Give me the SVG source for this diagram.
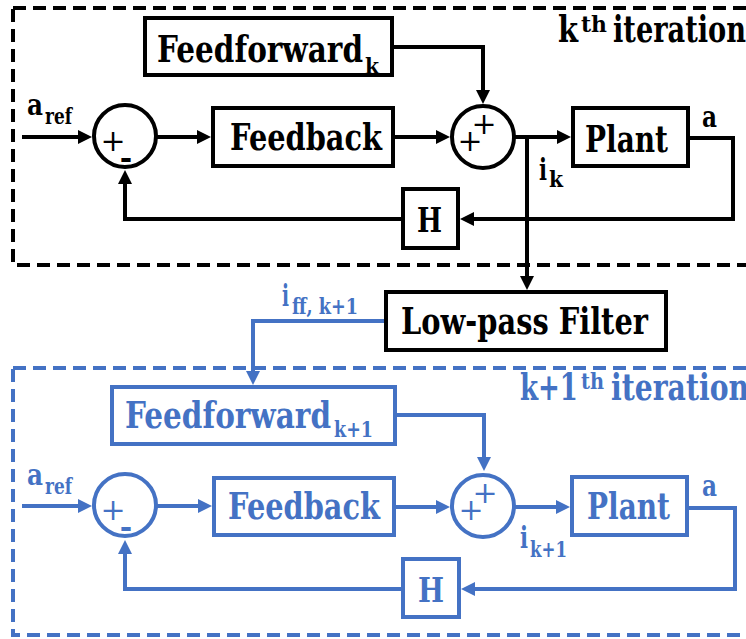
<svg xmlns="http://www.w3.org/2000/svg" width="746" height="639" viewBox="0 0 746 639">
  <style>
    .k { stroke: #000000; }
    .b { stroke: #4472C4; }
    .box { fill: #ffffff; stroke-width: 4; }
    .frame { fill: none; stroke-width: 4; stroke-dasharray: 13 7; }
    .wire { fill: none; stroke-width: 4; stroke-linejoin: miter; }
    text { font-family: "DejaVu Serif", serif; font-weight: bold; }
    .lbl { font-size: 37px; }
    .sm { font-size: 30px; }
    .sub { font-size: 23px; }
    .sign { font-weight: normal; font-size: 30px; text-anchor: middle; }
    .minus { font-size: 30px; text-anchor: middle; }
    .tk { fill: #000000; }
    .tb { fill: #4472C4; }
  </style>
  <defs>
    <marker id="arrK" markerUnits="userSpaceOnUse" markerWidth="14" markerHeight="14" refX="5" refY="7" orient="auto">
      <path d="M0,0 L14,7 L0,14 z" fill="#000000"/>
    </marker>
    <marker id="arrB" markerUnits="userSpaceOnUse" markerWidth="14" markerHeight="14" refX="5" refY="7" orient="auto">
      <path d="M0,0 L14,7 L0,14 z" fill="#4472C4"/>
    </marker>
  </defs>

  <!-- iteration frames -->
  <g id="frame-k">
    <rect class="frame k" x="13" y="8" width="760" height="257"/>
    <text class="lbl tk"><tspan x="558" y="42" textLength="20" lengthAdjust="spacingAndGlyphs">k</tspan><tspan class="sub" x="581" y="32" textLength="26" lengthAdjust="spacingAndGlyphs">th</tspan><tspan x="613" y="42" textLength="133" lengthAdjust="spacingAndGlyphs">iteration</tspan></text>
  </g>
  <g id="frame-k1">
    <rect class="frame b" x="13" y="368" width="760" height="267"/>
    <text class="lbl tb"><tspan x="520" y="400" textLength="58" lengthAdjust="spacingAndGlyphs">k+1</tspan><tspan class="sub" x="581" y="389" textLength="23" lengthAdjust="spacingAndGlyphs">th</tspan><tspan x="611" y="400" textLength="138" lengthAdjust="spacingAndGlyphs">iteration</tspan></text>
  </g>

  <!-- connectors -->
  <g id="connectors">
    <!-- k-th iteration -->
    <path class="wire k" d="M22,137 H83" marker-end="url(#arrK)"/>
    <path class="wire k" d="M156,137 H202" marker-end="url(#arrK)"/>
    <path class="wire k" d="M395,137 H441" marker-end="url(#arrK)"/>
    <path class="wire k" d="M394,47 H483 V95" marker-end="url(#arrK)"/>
    <path class="wire k" d="M514,137 H562" marker-end="url(#arrK)"/>
    <path class="wire k" d="M527,137 V281" marker-end="url(#arrK)"/>
    <path class="wire k" d="M690,138 H733 V219 H469" marker-end="url(#arrK)"/>
    <path class="wire k" d="M401,219 H125 V179" marker-end="url(#arrK)"/>
    <!-- filter output to next iteration -->
    <path class="wire b" d="M384,321 H253 V376" marker-end="url(#arrB)"/>
    <!-- (k+1)-th iteration -->
    <path class="wire b" d="M22,506 H83" marker-end="url(#arrB)"/>
    <path class="wire b" d="M156,506 H203" marker-end="url(#arrB)"/>
    <path class="wire b" d="M396,507 H441" marker-end="url(#arrB)"/>
    <path class="wire b" d="M397,415 H484 V462" marker-end="url(#arrB)"/>
    <path class="wire b" d="M515,507 H561" marker-end="url(#arrB)"/>
    <path class="wire b" d="M689,508 H735 V589 H470" marker-end="url(#arrB)"/>
    <path class="wire b" d="M401,589 H125 V549" marker-end="url(#arrB)"/>
  </g>

  <!-- signal labels -->
  <g id="signal-labels">
    <text class="sm tk"><tspan x="27" y="115" textLength="16" lengthAdjust="spacingAndGlyphs">a</tspan><tspan class="sub" x="45" y="124" textLength="27" lengthAdjust="spacingAndGlyphs">ref</tspan></text>
    <text class="sm tk" x="702" y="127" textLength="15" lengthAdjust="spacingAndGlyphs">a</text>
    <text class="sm tk"><tspan x="539" y="180" textLength="8" lengthAdjust="spacingAndGlyphs">i</tspan><tspan class="sub" x="549" y="187" textLength="14" lengthAdjust="spacingAndGlyphs">k</tspan></text>

    <text class="sm tb"><tspan x="282" y="306" textLength="7" lengthAdjust="spacingAndGlyphs">i</tspan><tspan class="sub" x="292" y="314" textLength="66" lengthAdjust="spacingAndGlyphs">ff, k+1</tspan></text>
    <text class="sm tb"><tspan x="27" y="485" textLength="16" lengthAdjust="spacingAndGlyphs">a</tspan><tspan class="sub" x="45" y="494" textLength="27" lengthAdjust="spacingAndGlyphs">ref</tspan></text>
    <text class="sm tb" x="702" y="496" textLength="15" lengthAdjust="spacingAndGlyphs">a</text>
    <text class="sm tb"><tspan x="520" y="548" textLength="8" lengthAdjust="spacingAndGlyphs">i</tspan><tspan class="sub" x="530" y="557" textLength="37" lengthAdjust="spacingAndGlyphs">k+1</tspan></text>
  </g>

  <!-- k-th iteration blocks -->
  <g id="ff-k">
    <rect class="box k" x="145" y="18" width="247" height="57"/>
    <text class="lbl tk"><tspan x="157" y="62" textLength="206" lengthAdjust="spacingAndGlyphs">Feedforward</tspan><tspan class="sub" x="365" y="74" textLength="14" lengthAdjust="spacingAndGlyphs">k</tspan></text>
  </g>
  <g id="sum1-k">
    <circle class="box k" cx="125" cy="136" r="31"/>
    <text class="sign tk" x="113" y="151">+</text>
    <text class="minus tk" x="126" y="168">-</text>
  </g>
  <g id="fb-k">
    <rect class="box k" x="213" y="108" width="180" height="58"/>
    <text class="lbl tk" x="230" y="150" textLength="152" lengthAdjust="spacingAndGlyphs">Feedback</text>
  </g>
  <g id="sum2-k">
    <circle class="box k" cx="483" cy="137" r="31"/>
    <text class="sign tk" x="470" y="151">+</text>
    <text class="sign tk" x="484" y="134">+</text>
  </g>
  <g id="plant-k">
    <rect class="box k" x="573" y="108" width="115" height="58"/>
    <text class="lbl tk" x="585" y="152" textLength="83" lengthAdjust="spacingAndGlyphs">Plant</text>
  </g>
  <g id="h-k">
    <rect class="box k" x="403" y="189" width="55" height="59"/>
    <text class="tk" style="font-size:33px" x="417" y="232" textLength="25" lengthAdjust="spacingAndGlyphs">H</text>
  </g>

  <!-- filter between iterations -->
  <g id="lpf">
    <rect class="box k" x="386" y="292" width="280" height="58"/>
    <text class="lbl tk" x="401" y="334" textLength="247" lengthAdjust="spacingAndGlyphs">Low-pass Filter</text>
  </g>

  <!-- (k+1)-th iteration blocks -->
  <g id="ff-k1">
    <rect class="box b" x="112" y="387" width="283" height="57"/>
    <text class="lbl tb"><tspan x="125" y="428" textLength="206" lengthAdjust="spacingAndGlyphs">Feedforward</tspan><tspan class="sub" x="334" y="437" textLength="39" lengthAdjust="spacingAndGlyphs">k+1</tspan></text>
  </g>
  <g id="sum1-k1">
    <circle class="box b" cx="125" cy="505" r="31"/>
    <text class="sign tb" x="113" y="520">+</text>
    <text class="minus tb" x="126" y="537">-</text>
  </g>
  <g id="fb-k1">
    <rect class="box b" x="214" y="478" width="180" height="57"/>
    <text class="lbl tb" x="228" y="519" textLength="152" lengthAdjust="spacingAndGlyphs">Feedback</text>
  </g>
  <g id="sum2-k1">
    <circle class="box b" cx="483" cy="506" r="31"/>
    <text class="sign tb" x="471" y="520">+</text>
    <text class="sign tb" x="485" y="503">+</text>
  </g>
  <g id="plant-k1">
    <rect class="box b" x="572" y="477" width="115" height="58"/>
    <text class="lbl tb" x="587" y="519" textLength="83" lengthAdjust="spacingAndGlyphs">Plant</text>
  </g>
  <g id="h-k1">
    <rect class="box b" x="403" y="559" width="56" height="58"/>
    <text class="tb" style="font-size:33px" x="418" y="602" textLength="26" lengthAdjust="spacingAndGlyphs">H</text>
  </g>
</svg>
